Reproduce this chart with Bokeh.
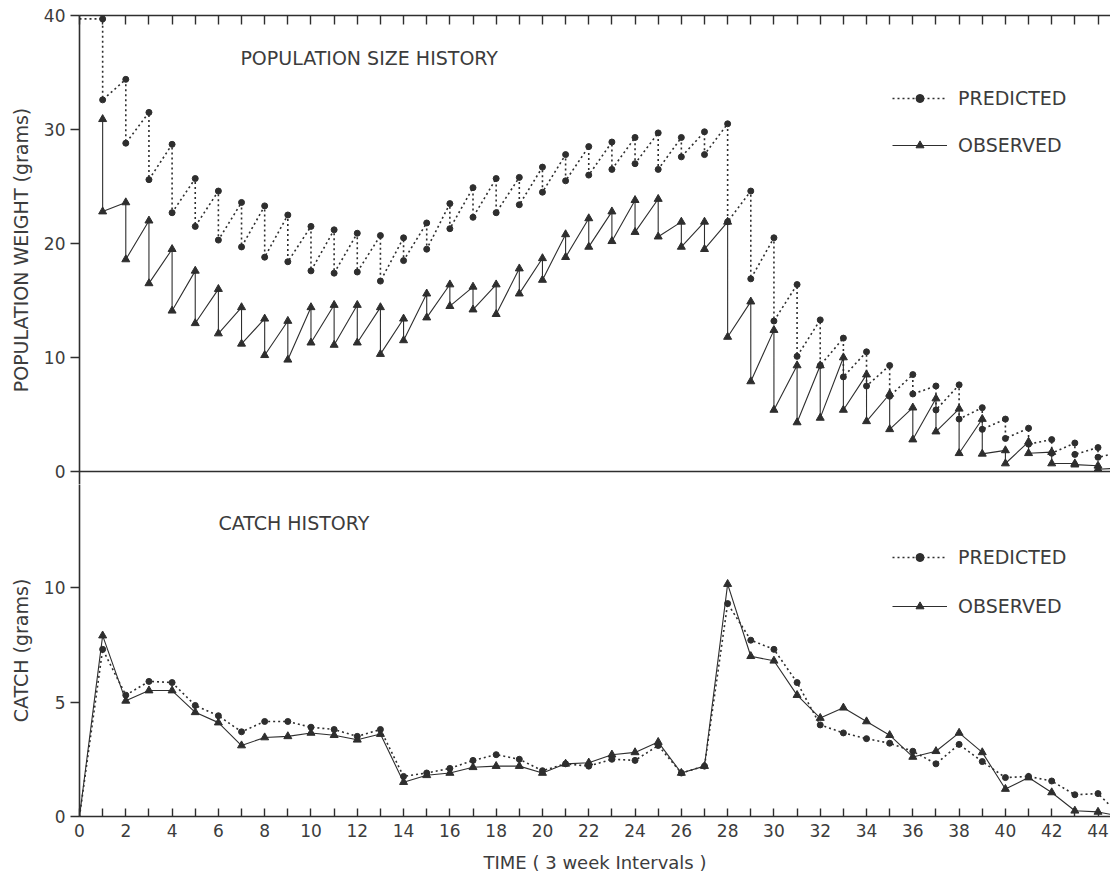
from bokeh.plotting import figure
from bokeh.layouts import column
from bokeh.models import (FixedTicker, LinearAxis, Span, Legend, LegendItem,
                          Label, Range1d)
from bokeh.embed import file_html
from bokeh.resources import INLINE

# ---------------- data ----------------
times = list(range(1, 45))
pred_start = 39.7          # predicted weight at time 0
pred_pre = [39.7, 34.4, 31.5, 28.7, 25.7, 24.6, 23.6, 23.3, 22.5, 21.5, 21.2,
            20.9, 20.7, 20.5, 21.8, 23.5, 24.9, 25.7, 25.8, 26.7, 27.8, 28.5,
            28.9, 29.3, 29.7, 29.3, 29.8, 30.5, 24.6, 20.5, 16.4, 13.3, 11.7,
            10.5, 9.3, 8.5, 7.5, 7.6, 5.6, 4.6, 3.8, 2.8, 2.5, 2.1]
pred_post = [32.6, 28.8, 25.6, 22.7, 21.5, 20.3, 19.7, 18.8, 18.4, 17.6, 17.4,
             17.5, 16.7, 18.5, 19.5, 21.3, 22.3, 22.7, 23.4, 24.5, 25.5, 26.0,
             26.5, 27.0, 26.5, 27.6, 27.8, 21.9, 16.9, 13.2, 10.1, 9.3, 8.3,
             7.5, 6.6, 6.8, 5.4, 4.6, 3.7, 2.9, 2.4, 1.6, 1.5, 1.25]
obs_pre = [30.9, 23.6, 22.0, 19.5, 17.6, 16.0, 14.4, 13.4, 13.2, 14.4, 14.6,
           14.6, 14.4, 13.4, 15.6, 16.4, 16.2, 16.4, 17.8, 18.7, 20.8, 22.2,
           22.8, 23.8, 23.9, 21.9, 21.9, 21.9, 14.9, 12.4, 9.3, 9.3, 10.0,
           8.5, 6.8, 5.6, 6.4, 5.5, 4.6, 1.85, 2.6, 1.7, 0.7, 0.5]
obs_post = [22.8, 18.6, 16.5, 14.1, 13.0, 12.1, 11.2, 10.2, 9.8, 11.3, 11.1,
            11.3, 10.3, 11.5, 13.5, 14.5, 14.2, 13.8, 15.6, 16.8, 18.8, 19.7,
            20.2, 21.0, 20.6, 19.7, 19.5, 11.8, 7.9, 5.4, 4.3, 4.7, 5.4,
            4.4, 3.7, 2.8, 3.5, 1.6, 1.55, 0.7, 1.6, 0.7, 0.6, 0.2]
tail_time = 45
pred_tail = 1.7
obs_tail = 0.3

catch_times = list(range(0, 46))
pred_catch = [0, 7.3, 5.3, 5.9, 5.85, 4.85, 4.4, 3.7, 4.15, 4.15, 3.9, 3.8,
              3.5, 3.8, 1.75, 1.9, 2.1, 2.45, 2.7, 2.5, 2.0, 2.3, 2.2, 2.5,
              2.45, 3.1, 1.9, 2.2, 9.3, 7.7, 7.3, 5.85, 4.0, 3.65, 3.4, 3.2,
              2.85, 2.3, 3.15, 2.4, 1.7, 1.75, 1.55, 0.95, 1.0, 0.0]
obs_catch = [0, 7.9, 5.05, 5.5, 5.5, 4.55, 4.1, 3.1, 3.45, 3.5, 3.65, 3.55,
             3.35, 3.6, 1.5, 1.8, 1.9, 2.15, 2.2, 2.2, 1.9, 2.3, 2.35, 2.7,
             2.8, 3.25, 1.9, 2.2, 10.15, 7.0, 6.8, 5.3, 4.3, 4.75, 4.15, 3.55,
             2.6, 2.85, 3.65, 2.8, 1.2, 1.7, 1.05, 0.25, 0.2, 0.0]

pop_yticks = [0, 10, 20, 30, 40]
catch_yticks = [0, 5, 10]
x_major = list(range(0, 45, 2))
x_minor = list(range(1, 45, 2))
x_all = list(range(0, 45))

# ---------------- style ----------------
FONT = "DejaVu Sans"
INK = "#2e2e2e"
TXT = "#3c3c3c"
DASH = "2 3"

# sawtooth paths built from the arrays
pred_x, pred_y = [0], [pred_start]
for t, a, b in zip(times, pred_pre, pred_post):
    pred_x += [t, t]
    pred_y += [a, b]
pred_x.append(tail_time)
pred_y.append(pred_tail)

obs_x, obs_y = [], []
for t, a, b in zip(times, obs_pre, obs_post):
    obs_x += [t, t]
    obs_y += [a, b]
obs_x.append(tail_time)
obs_y.append(obs_tail)

xr = Range1d(0, 44.54)


def style_left(ax, label, ticks):
    ax.ticker = FixedTicker(ticks=ticks)
    ax.axis_label = label
    ax.axis_label_text_font = FONT
    ax.axis_label_text_font_size = "19px"
    ax.axis_label_text_font_style = "normal"
    ax.axis_label_text_color = TXT
    ax.axis_label_standoff = 9
    ax.major_label_text_font = FONT
    ax.major_label_text_font_size = "17px"
    ax.major_label_text_color = TXT
    ax.major_label_standoff = 5
    ax.major_tick_out = 9
    ax.major_tick_in = 0
    ax.minor_tick_out = 0
    ax.minor_tick_in = 0
    ax.axis_line_width = 1.6
    ax.axis_line_color = INK
    ax.major_tick_line_color = INK
    ax.major_tick_line_width = 1.4


# ---------------- top panel ----------------
p1 = figure(width=1110, height=484, x_range=xr,
            y_range=Range1d(-1.14, 40),
            output_backend="svg", toolbar_location=None, x_axis_location=None,
            min_border_left=79, min_border_right=0, min_border_top=15,
            min_border_bottom=0)
p1.outline_line_color = None
p1.grid.grid_line_color = None
style_left(p1.yaxis[0], "POPULATION WEIGHT (grams)", pop_yticks)

top_ax = LinearAxis(ticker=FixedTicker(ticks=x_all))
top_ax.major_label_text_font_size = "1px"
top_ax.major_label_text_color = None
top_ax.major_label_standoff = 0
top_ax.major_tick_in = 9
top_ax.major_tick_out = 0
top_ax.minor_tick_in = 0
top_ax.minor_tick_out = 0
top_ax.axis_line_width = 1.6
top_ax.axis_line_color = INK
top_ax.major_tick_line_color = INK
top_ax.major_tick_line_width = 1.4
p1.add_layout(top_ax, "above")

p1.add_layout(Span(location=0, dimension="width", line_color=INK,
                   line_width=1.6))

pl = p1.line(pred_x, pred_y, line_color=INK, line_width=1.6, line_dash=DASH)
ps = p1.scatter(times + times, pred_pre + pred_post, marker="circle", size=6,
                fill_color=INK, line_color=INK)
ol = p1.line(obs_x, obs_y, line_color=INK, line_width=1.1)
os_ = p1.scatter(times + times, obs_pre + obs_post, marker="triangle", size=8,
                 fill_color=INK, line_color=INK)

p1.add_layout(Label(x=6.95, y=36.3, text="POPULATION SIZE HISTORY",
                    text_baseline="middle", text_font=FONT,
                    text_font_size="19px", text_color=TXT))

leg1 = Legend(items=[LegendItem(label="PREDICTED", renderers=[pl, ps]),
                     LegendItem(label="OBSERVED", renderers=[ol, os_])],
              location=(813, 328), border_line_color=None,
              background_fill_alpha=0, padding=0, margin=0, spacing=25,
              glyph_width=55, glyph_height=20, label_standoff=11,
              label_text_font=FONT, label_text_font_size="19px",
              label_text_color=TXT)
p1.add_layout(leg1)

# ---------------- bottom panel ----------------
p2 = figure(width=1110, height=394, x_range=xr, y_range=Range1d(0, 14.5),
            output_backend="svg", toolbar_location=None,
            min_border_left=79, min_border_right=0, min_border_top=0,
            min_border_bottom=62)
p2.outline_line_color = None
p2.grid.grid_line_color = None
style_left(p2.yaxis[0], "CATCH (grams)", catch_yticks)

bx = p2.xaxis[0]
bx.ticker = FixedTicker(ticks=x_major, minor_ticks=x_minor)
bx.axis_label = "TIME ( 3 week Intervals )"
bx.axis_label_text_font = FONT
bx.axis_label_text_font_size = "18px"
bx.axis_label_text_font_style = "normal"
bx.axis_label_text_color = TXT
bx.axis_label_standoff = 12
bx.major_label_text_font = FONT
bx.major_label_text_font_size = "17px"
bx.major_label_text_color = TXT
bx.major_label_standoff = 7
bx.major_tick_in = 8
bx.major_tick_out = 0
bx.minor_tick_in = 8
bx.minor_tick_out = 0
bx.axis_line_width = 1.6
bx.axis_line_color = INK
bx.major_tick_line_color = INK
bx.minor_tick_line_color = INK
bx.major_tick_line_width = 1.4
bx.minor_tick_line_width = 1.4

cl = p2.line(catch_times, pred_catch, line_color=INK, line_width=1.6,
             line_dash=DASH)
cs = p2.scatter(catch_times[1:45], pred_catch[1:45], marker="circle", size=6,
                fill_color=INK, line_color=INK)
col_ = p2.line(catch_times, obs_catch, line_color=INK, line_width=1.1)
cos_ = p2.scatter(catch_times[1:45], obs_catch[1:45], marker="triangle",
                  size=8, fill_color=INK, line_color=INK)

p2.add_layout(Label(x=6.0, y=12.8, text="CATCH HISTORY",
                    text_baseline="middle", text_font=FONT,
                    text_font_size="19px", text_color=TXT))

leg2 = Legend(items=[LegendItem(label="PREDICTED", renderers=[cl, cs]),
                     LegendItem(label="OBSERVED", renderers=[col_, cos_])],
              location=(813, 199), border_line_color=None,
              background_fill_alpha=0, padding=0, margin=0, spacing=27,
              glyph_width=55, glyph_height=20, label_standoff=11,
              label_text_font=FONT, label_text_font_size="19px",
              label_text_color=TXT)
p2.add_layout(leg2)

layout = column(p1, p2)
open("out.html", "w").write(file_html(layout, INLINE))
